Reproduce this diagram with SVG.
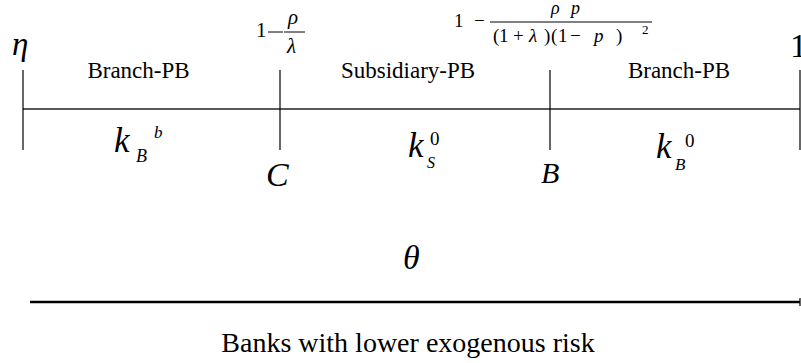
<svg xmlns="http://www.w3.org/2000/svg" width="801" height="363" viewBox="0 0 801 363">
<style>
text{font-family:"Liberation Serif","Times New Roman",serif;fill:#000}
.i{font-style:italic}
.lbl{font-size:23px;text-anchor:middle}
.tick{stroke:#000;stroke-width:1.2}
.axis{stroke:#222;stroke-width:1.3}
.bar{stroke:#000;stroke-width:1}
</style>
<rect width="801" height="363" fill="#fff"/>
<g id="connectors">
  <line class="axis" x1="23" y1="109" x2="800" y2="109"/>
  <line class="tick" x1="23" y1="70" x2="23" y2="150"/>
  <line class="tick" x1="280" y1="70" x2="280" y2="150"/>
  <line class="tick" x1="550" y1="70" x2="550" y2="150"/>
  <line class="tick" x1="800" y1="70" x2="800" y2="150"/>
  <line x1="30" y1="302" x2="800" y2="302" stroke="#000" stroke-width="2.5"/>
  <line x1="800" y1="298" x2="800" y2="306" stroke="#000" stroke-width="1.2"/>
</g>
<g id="eta"><text class="i" x="12" y="55" font-size="33">η</text></g>
<g id="one"><text x="790" y="57" font-size="34">1</text></g>
<g id="branch-left"><text class="lbl" x="138.5" y="78">Branch-PB</text></g>
<g id="subsidiary"><text class="lbl" x="408" y="78">Subsidiary-PB</text></g>
<g id="branch-right"><text class="lbl" x="679" y="78">Branch-PB</text></g>
<g id="threshold-C">
  <text x="256" y="37" font-size="21">1</text>
  <line class="bar" x1="268" y1="32" x2="283" y2="32"/>
  <line class="bar" x1="284" y1="32" x2="305" y2="32"/>
  <text class="i" x="288" y="24" font-size="21">ρ</text>
  <text class="i" x="287" y="53" font-size="21">λ</text>
  <text class="i" x="266" y="186" font-size="34">C</text>
</g>
<g id="threshold-B">
  <text x="454" y="27" font-size="19">1</text>
  <text x="474" y="27" font-size="19">−</text>
  <line class="bar" x1="490" y1="22" x2="652" y2="22"/>
  <text class="i" x="551" y="14" font-size="18">ρ</text>
  <text class="i" x="571" y="14" font-size="18">p</text>
  <text x="493" y="42" font-size="19">(</text>
  <text x="499" y="42" font-size="19">1</text>
  <text x="513" y="42" font-size="19">+</text>
  <text class="i" x="529" y="42" font-size="19">λ</text>
  <text x="544" y="42" font-size="19">)</text>
  <text x="551" y="42" font-size="19">(</text>
  <text x="558" y="42" font-size="19">1</text>
  <text x="570" y="42" font-size="19">−</text>
  <text class="i" x="594" y="42" font-size="19">p</text>
  <text x="616" y="42" font-size="19">)</text>
  <text x="642" y="34" font-size="13">2</text>
  <text class="i" x="541" y="183" font-size="30">B</text>
</g>
<g id="kBb">
  <text class="i" x="114" y="152" font-size="35">k</text>
  <text class="i" x="136" y="162" font-size="18">B</text>
  <text class="i" x="154" y="138" font-size="17">b</text>
</g>
<g id="kS0">
  <text class="i" x="408" y="157" font-size="35">k</text>
  <text class="i" x="427" y="168" font-size="16">S</text>
  <text x="430" y="145" font-size="19">0</text>
</g>
<g id="kB0">
  <text class="i" x="656" y="158" font-size="35">k</text>
  <text class="i" x="675" y="170" font-size="17">B</text>
  <text x="685" y="147" font-size="19">0</text>
</g>
<g id="theta"><text class="i" x="403" y="269" font-size="34">θ</text></g>
<g id="caption"><text x="408" y="352" font-size="28" text-anchor="middle">Banks with lower exogenous risk</text></g>
</svg>
